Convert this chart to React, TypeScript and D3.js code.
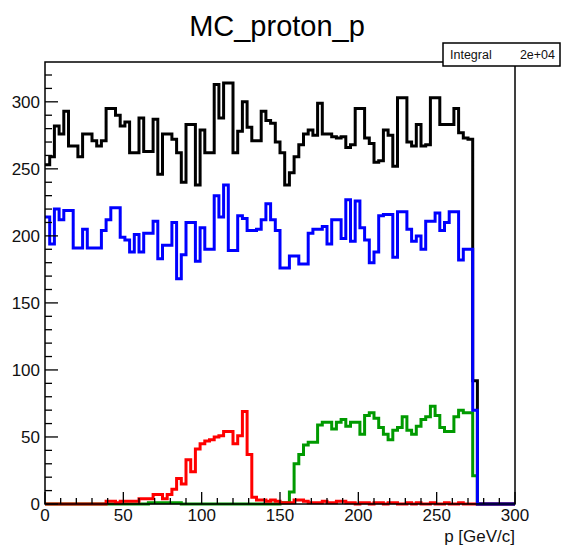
import React from "react";
import * as d3 from "d3";

// Histogram binning: 100 bins of 3 GeV/c from 0 to 300
const X_MIN = 0;
const X_MAX = 300;
const N_BINS = 100;

// Bin contents, bin 0 .. bin 99
const totalCounts = [
  253, 259, 282, 276, 293, 267, 267, 259, 276, 276,
  271, 267, 271, 295, 295, 290, 282, 285, 262, 262,
  288, 263, 263, 287, 246, 276, 276, 272, 262, 240,
  283, 283, 238, 279, 262, 262, 313, 288, 314, 314,
  262, 278, 300, 281, 271, 271, 293, 286, 284, 270,
  262, 238, 247, 259, 268, 276, 279, 275, 299, 276,
  276, 274, 273, 274, 266, 268, 295, 295, 273, 269,
  255, 256, 279, 275, 252, 303, 303, 270, 267, 283,
  267, 268, 303, 303, 283, 283, 283, 295, 277, 273,
  272, 92, 0, 0, 0, 0, 0, 0, 0, 0,
];

const blueCounts = [
  214, 194, 220, 212, 219, 219, 191, 191, 205, 191,
  191, 191, 204, 212, 221, 221, 199, 197, 188, 201,
  188, 202, 202, 211, 183, 193, 193, 210, 168, 186,
  210, 210, 181, 206, 190, 190, 230, 214, 238, 189,
  189, 215, 213, 204, 204, 205, 212, 224, 212, 204,
  176, 176, 185, 185, 179, 179, 202, 205, 205, 207,
  194, 212, 212, 198, 227, 196, 226, 206, 197, 180,
  188, 215, 216, 216, 184, 218, 218, 205, 196, 200,
  190, 211, 211, 217, 204, 210, 218, 218, 182, 190,
  190, 70, 0, 0, 0, 0, 0, 0, 0, 0,
];

const redCounts = [
  0, 0, 0, 0, 0, 0, 0, 0, 0, 0,
  0, 0, 0, 2, 2, 1, 2, 2, 2, 2,
  4, 4, 4, 7, 7, 4, 7, 11, 19, 15,
  33, 24, 41, 45, 47, 48, 50, 51, 54, 54,
  45, 51, 69, 37, 5, 3, 3, 2, 3, 2,
  1, 1, 1, 3, 3, 2, 1, 1, 1, 2,
  1, 1, 2, 2, 1, 1, 0, 1, 1, 0,
  1, 1, 0, 1, 1, 0, 0, 1, 0, 1,
  0, 0, 1, 0, 0, 1, 0, 0, 1, 0,
  0, 0, 0, 0, 0, 0, 0, 0, 0, 0,
];

const greenCounts = [
  0, 0, 0, 0, 0, 0, 0, 0, 0, 0,
  0, 0, 0, 0, 0, 0, 0, 0, 0, 0,
  0, 0, 1, 1, 1, 1, 1, 1, 1, 0,
  0, 0, 0, 0, 0, 0, 0, 0, 0, 0,
  0, 0, 0, 0, 0, 0, 0, 0, 0, 0,
  1, 1, 9, 30, 37, 44, 46, 46, 59, 61,
  61, 56, 61, 63, 58, 61, 61, 52, 66, 68,
  64, 57, 52, 48, 55, 57, 65, 55, 52, 58,
  63, 65, 73, 66, 57, 54, 54, 65, 70, 68,
  68, 21, 0, 0, 0, 0, 0, 0, 0, 0,
];

const xMajorTicks = [0, 50, 100, 150, 200, 250, 300];
const yMajorTicks = [0, 50, 100, 150, 200, 250, 300];

const TITLE = "MC_proton_p";
const X_TITLE = "p [GeV/c]";
const STATS_LABEL = "Integral";
const STATS_VALUE = "2e+04";

const W = 563;
const H = 546;
const FRAME = { left: 45, right: 515, top: 62, bottom: 504 };
const FONT = "'Liberation Sans', Arial, Helvetica, sans-serif";

const binWidth = (X_MAX - X_MIN) / N_BINS;

function histPath(
  counts: number[],
  x: d3.ScaleLinear<number, number>,
  y: d3.ScaleLinear<number, number>
) {
  const pts: [number, number][] = counts.map((c, i) => [X_MIN + i * binWidth, c]);
  pts.push([X_MAX, counts[counts.length - 1]]);
  const line = d3
    .line<[number, number]>()
    .x((d) => x(d[0]))
    .y((d) => y(d[1]))
    .curve(d3.curveStepAfter);
  return line(pts) || "";
}

export default function App() {
  const yMax = (d3.max(totalCounts) || 1) * 1.05;
  const x = d3.scaleLinear().domain([X_MIN, X_MAX]).range([FRAME.left, FRAME.right]);
  const y = d3.scaleLinear().domain([0, yMax]).range([FRAME.bottom, FRAME.top]);

  const xMinor = d3.range(X_MIN, X_MAX + 0.001, 10);
  const yMinor = d3.range(0, yMax, 10);

  const series = [
    { counts: totalCounts, color: "#000000" },
    { counts: greenCounts, color: "#009a00" },
    { counts: redCounts, color: "#ff0000" },
    { counts: blueCounts, color: "#0000ff" },
  ];

  return (
    <svg
      width={W}
      height={H}
      style={{ position: "absolute", left: 0, top: 0, background: "#fff" }}
      fontFamily={FONT}
    >
      <rect x={0} y={0} width={W} height={H} fill="#fff" />

      <text x={277} y={36} fontSize={29} textAnchor="middle" fill="#000">
        {TITLE}
      </text>

      {/* histograms */}
      {series.map((s, i) => (
        <path
          key={i}
          d={histPath(s.counts, x, y)}
          fill="none"
          stroke={s.color}
          strokeWidth={3}
          strokeLinejoin="miter"
        />
      ))}

      {/* frame */}
      <rect
        x={FRAME.left}
        y={FRAME.top}
        width={FRAME.right - FRAME.left}
        height={FRAME.bottom - FRAME.top}
        fill="none"
        stroke="#000"
        strokeWidth={1.5}
      />

      {/* x axis ticks */}
      {xMinor.map((v) => (
        <line
          key={"xm" + v}
          x1={x(v)}
          x2={x(v)}
          y1={FRAME.bottom}
          y2={FRAME.bottom - (v % 50 === 0 ? 12 : 6)}
          stroke="#000"
          strokeWidth={1.3}
        />
      ))}
      {xMajorTicks.map((v) => (
        <text key={"xl" + v} x={x(v)} y={521} fontSize={17} textAnchor="middle" fill="#111">
          {v}
        </text>
      ))}
      <text x={FRAME.right} y={542} fontSize={17} textAnchor="end" fill="#111">
        {X_TITLE}
      </text>

      {/* y axis ticks */}
      {yMinor.map((v) => (
        <line
          key={"ym" + v}
          x1={FRAME.left}
          x2={FRAME.left + (v % 50 === 0 ? 13 : 7)}
          y1={y(v)}
          y2={y(v)}
          stroke="#000"
          strokeWidth={1.3}
        />
      ))}
      {yMajorTicks.map((v) => (
        <text key={"yl" + v} x={40} y={y(v) + 6} fontSize={17} textAnchor="end" fill="#111">
          {v}
        </text>
      ))}

      {/* statistics box */}
      <rect x={443} y={43} width={117} height={23} fill="#fff" stroke="#000" strokeWidth={1.5} />
      <text x={450} y={59} fontSize={12.5} fill="#111">
        {STATS_LABEL}
      </text>
      <text x={555} y={59} fontSize={12.5} textAnchor="end" fill="#111">
        {STATS_VALUE}
      </text>
    </svg>
  );
}
